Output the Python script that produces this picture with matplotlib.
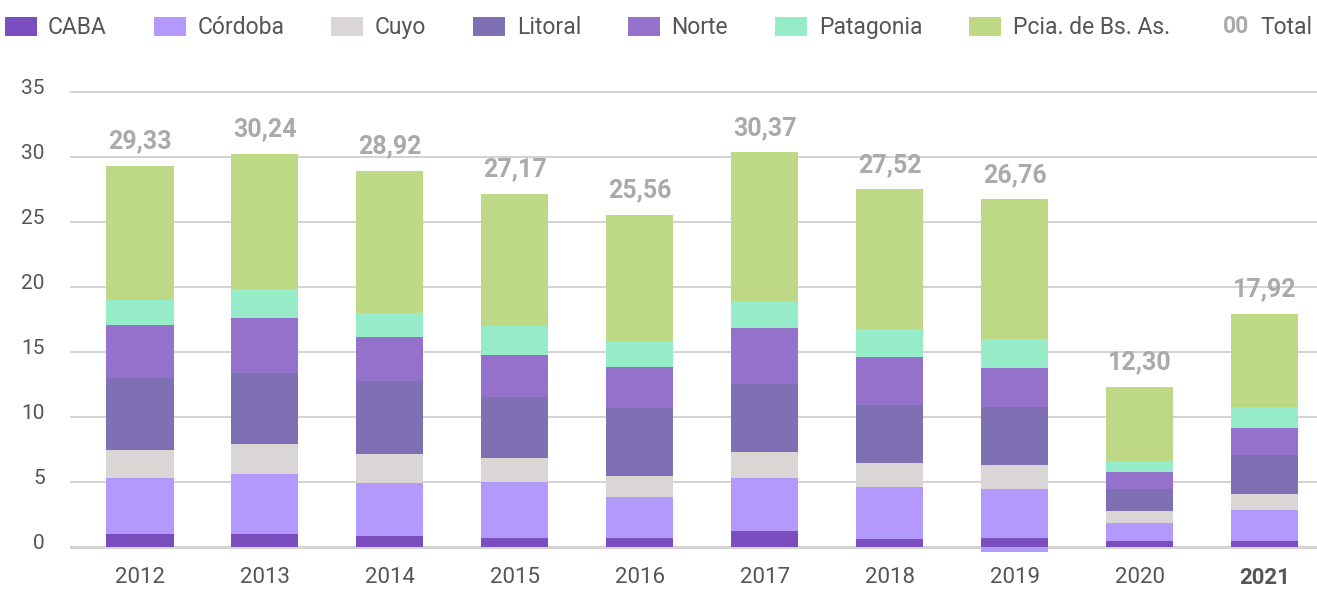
import matplotlib
matplotlib.use("Agg")
import matplotlib.pyplot as plt
import matplotlib.text as mtext
from matplotlib.patches import Patch
from matplotlib.lines import Line2D
from matplotlib.legend_handler import HandlerBase
from matplotlib.transforms import ScaledTranslation
import numpy as np

plt.rcParams['font.family'] = ['Roboto', 'DejaVu Sans']

years = ["2012", "2013", "2014", "2015", "2016", "2017", "2018", "2019", "2020", "2021"]

# valores por región
caba = [0.97, 0.97, 0.82, 0.67, 0.67, 1.21, 0.59, 0.67, 0.44, 0.44]
cordoba = [4.31, 4.62, 4.08, 4.30, 3.15, 4.07, 4.00, 3.77, 1.38, 2.38]
cordoba_neg = [0, 0, 0, 0, 0, 0, 0, -0.41, 0, 0]
cuyo = [2.15, 2.31, 2.23, 1.85, 1.62, 2.00, 1.85, 1.84, 0.92, 1.23]
litoral = [5.54, 5.46, 5.61, 4.69, 5.23, 5.23, 4.46, 4.46, 1.70, 3.00]
norte = [4.15, 4.23, 3.39, 3.23, 3.15, 4.31, 3.69, 3.00, 1.30, 2.08]
patagonia = [1.92, 2.23, 1.84, 2.26, 2.00, 2.08, 2.15, 2.23, 0.85, 1.61]
pcia = [10.29, 10.42, 10.95, 10.17, 9.74, 11.47, 10.78, 10.79, 5.71, 7.18]
totals = [29.33, 30.24, 28.92, 27.17, 25.56, 30.37, 27.52, 26.76, 12.30, 17.92]

series = [
    ("CABA", caba, "#7a4ebf"),
    ("Córdoba", cordoba, "#b499fc"),
    ("Cuyo", cuyo, "#dad6d5"),
    ("Litoral", litoral, "#7e70b3"),
    ("Norte", norte, "#9472cc"),
    ("Patagonia", patagonia, "#96ecc8"),
    ("Pcia. de Bs. As.", pcia, "#bdd986"),
]

TEXT = "#555555"
TOTAL_C = "#aaaaaa"


class HandlerTotal(HandlerBase):
    def create_artists(self, legend, orig_handle, xdescent, ydescent,
                       width, height, fontsize, trans):
        t = mtext.Text(width - xdescent, height / 2 - ydescent, "00",
                       ha="right", va="center", fontsize=fontsize,
                       fontweight="bold", color=TOTAL_C, transform=trans)
        return [t]


fig = plt.figure(figsize=(13.17, 5.89), dpi=100)
ax = fig.add_axes([0.053, 0.058, 0.947, 0.79])

x = np.arange(len(years))
width = 0.54
bottom = np.zeros(len(years))
handles = []
for name, vals, col in series:
    ax.bar(x, vals, width, bottom=bottom, color=col, zorder=3)
    bottom += np.array(vals)
    handles.append(Patch(facecolor=col, label=name))
ax.bar(x, cordoba_neg, width, color=series[1][2], zorder=3)

for xi, tot, top in zip(x, totals, bottom):
    ax.annotate(f"{tot:.2f}".replace(".", ","), (xi, top), xytext=(0, 9),
                textcoords="offset points", ha="center", va="bottom",
                fontsize=18, fontweight="bold", color=TOTAL_C)

ax.set_xlim(-0.56, 9.42)
ax.set_ylim(-0.6, 35.2)
ax.set_yticks(range(0, 36, 5))
ax.set_xticks(x)
ax.set_xticklabels(years)
ax.get_xticklabels()[-1].set_fontweight("bold")
ax.tick_params(axis="y", length=0, pad=18, labelsize=15, labelcolor=TEXT)
ax.tick_params(axis="x", length=0, pad=9, labelsize=16, labelcolor=TEXT)
# etiquetas del eje y un poco por encima de la grilla, como en el original
for lab in ax.get_yticklabels():
    lab.set_transform(lab.get_transform() + ScaledTranslation(0, 0.06, fig.dpi_scale_trans))
ax.grid(axis="y", color="#cfcfcf", linewidth=1.3, zorder=0)
ax.axhline(0, color="#d4d4d4", linewidth=2.2, zorder=2)
for s in ax.spines.values():
    s.set_visible(False)

total_handle = Line2D([], [])
handles.append(total_handle)
labels = [h.get_label() for h in handles[:-1]] + ["Total"]
fig.legend(handles, labels, handler_map={total_handle: HandlerTotal()},
           loc="center", bbox_to_anchor=(0.5, 0.953), ncol=8, frameon=False,
           fontsize=16.5, labelcolor=TEXT, handlelength=1.4, handleheight=0.87,
           handletextpad=0.5, columnspacing=2.05, borderaxespad=0)

fig.savefig("out.png", dpi=100)
